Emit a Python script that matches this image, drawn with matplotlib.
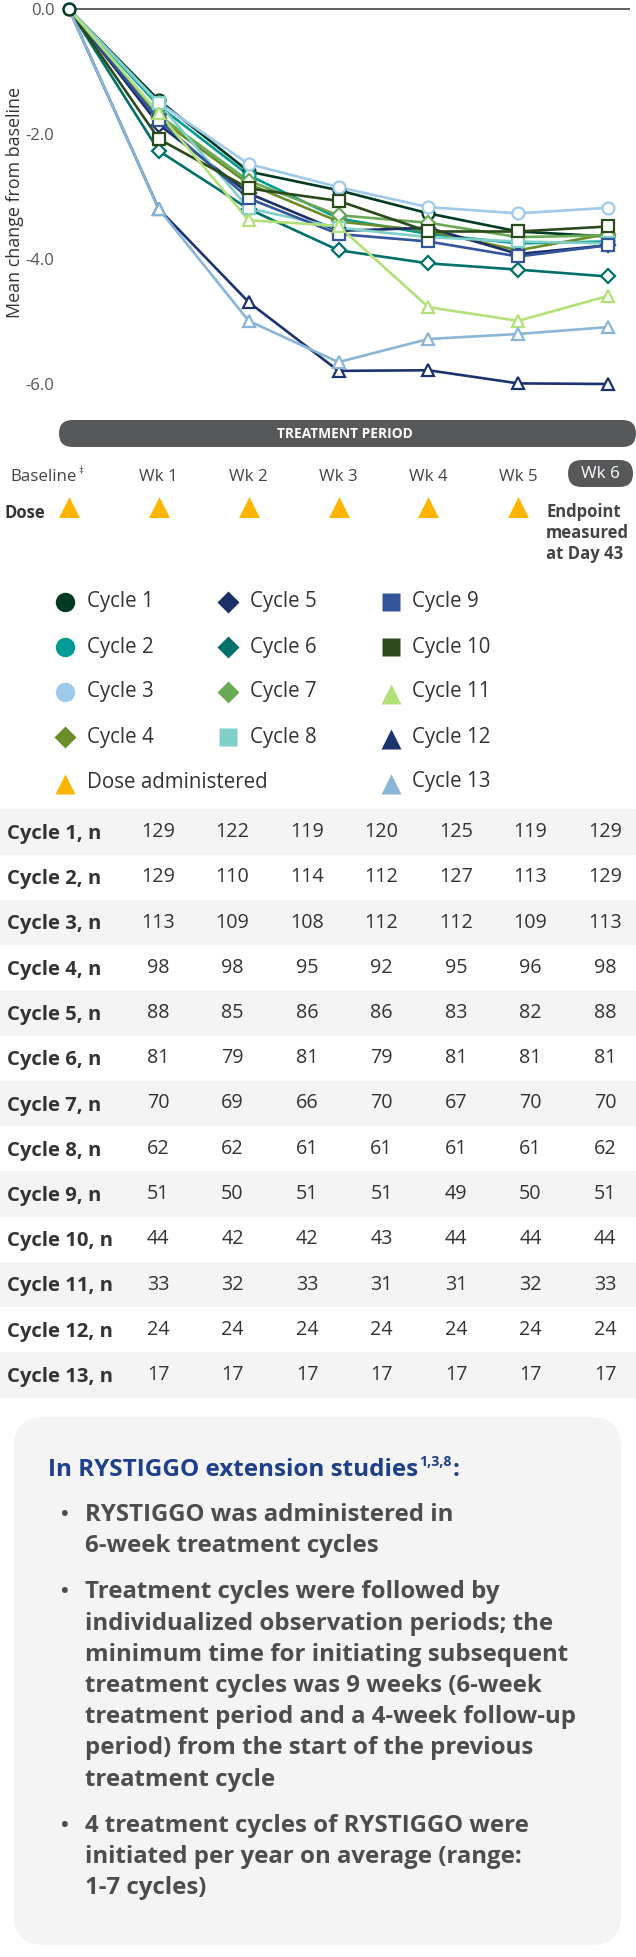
import matplotlib
matplotlib.use("Agg")
import matplotlib.pyplot as plt
from matplotlib.patches import FancyBboxPatch, Rectangle

plt.rcParams['font.family'] = ['Open Sans', 'DejaVu Sans']

W, H = 636, 1957

# ---- data ----
weeks = [0, 1, 2, 3, 4, 5, 6]
week_labels = ["Baseline", "Wk 1", "Wk 2", "Wk 3", "Wk 4", "Wk 5", "Wk 6"]
dose_weeks = [0, 1, 2, 3, 4, 5]

cycle_names = ["Cycle %d" % i for i in range(1, 14)]
cycle1 = [0, -1.46, -2.60, -2.90, -3.27, -3.56, -3.64]
cycle2 = [0, -1.55, -2.66, -3.35, -3.60, -3.75, -3.72]
cycle3 = [0, -1.50, -2.48, -2.85, -3.17, -3.27, -3.18]
cycle4 = [0, -1.75, -2.80, -3.40, -3.55, -3.86, -3.60]
cycle5 = [0, -1.85, -2.95, -3.55, -3.50, -3.92, -3.78]
cycle6 = [0, -2.27, -3.20, -3.86, -4.07, -4.17, -4.28]
cycle7 = [0, -1.70, -2.75, -3.30, -3.42, -3.65, -3.62]
cycle8 = [0, -1.51, -3.19, -3.50, -3.65, -3.72, -3.75]
cycle9 = [0, -1.78, -3.03, -3.60, -3.72, -3.96, -3.78]
cycle10 = [0, -2.08, -2.87, -3.07, -3.56, -3.56, -3.48]
cycle11 = [0, -1.67, -3.38, -3.47, -4.77, -4.99, -4.59]
cycle12 = [0, -3.20, -4.69, -5.79, -5.78, -5.99, -6.00]
cycle13 = [0, -3.20, -4.99, -5.65, -5.28, -5.20, -5.09]
cycle_values = [cycle1, cycle2, cycle3, cycle4, cycle5, cycle6, cycle7,
                cycle8, cycle9, cycle10, cycle11, cycle12, cycle13]

cycle_colors = ["#003a22", "#009b94", "#9fcaec", "#6b8e2b", "#1b2f66",
                "#00706a", "#6aa955", "#80cfc8", "#34559b", "#2a4a1c",
                "#b3e179", "#1c3370", "#8ab5d7"]
cycle_markers = ["o", "o", "o", "D", "D", "D", "D", "s", "s", "s", "^", "^", "^"]
dose_color = "#ffb400"

yticks = [0, -2, -4, -6]
ytick_labels = ["0.0", "-2.0", "-4.0", "-6.0"]

table_rows = ["Cycle %d, n" % i for i in range(1, 14)]
n_values = [
    [129, 122, 119, 120, 125, 119, 129],
    [129, 110, 114, 112, 127, 113, 129],
    [113, 109, 108, 112, 112, 109, 113],
    [98, 98, 95, 92, 95, 96, 98],
    [88, 85, 86, 86, 83, 82, 88],
    [81, 79, 81, 79, 81, 81, 81],
    [70, 69, 66, 70, 67, 70, 70],
    [62, 62, 61, 61, 61, 61, 62],
    [51, 50, 51, 51, 49, 50, 51],
    [44, 42, 42, 43, 44, 44, 44],
    [33, 32, 33, 31, 31, 32, 33],
    [24, 24, 24, 24, 24, 24, 24],
    [17, 17, 17, 17, 17, 17, 17],
]

box_title = "In RYSTIGGO extension studies"
box_bullets = [
    ["RYSTIGGO was administered in", "6-week treatment cycles"],
    ["Treatment cycles were followed by",
     "individualized observation periods; the",
     "minimum time for initiating subsequent",
     "treatment cycles was 9 weeks (6-week",
     "treatment period and a 4-week follow-up",
     "period) from the start of the previous",
     "treatment cycle"],
    ["4 treatment cycles of RYSTIGGO were",
     "initiated per year on average (range:",
     "1-7 cycles)"],
]

# ---- figure ----
fig = plt.figure(figsize=(W / 100, H / 100), dpi=100)

# page overlay in pixel coordinates (y down)
page = fig.add_axes([0, 0, 1, 1], zorder=-1)
page.set_xlim(0, W)
page.set_ylim(H, 0)
page.axis("off")
renderer = fig.canvas.get_renderer()


def fit(txt, target_px, weight="normal"):
    # font size whose rendered width matches the width measured on the reference
    t = page.text(0, 0, txt, fontsize=10, fontweight=weight)
    w = t.get_window_extent(renderer=renderer).width
    t.remove()
    return 10 * target_px / w


fs_title = fit(box_title, 371, "bold")
fs_bullet = (fit(box_bullets[1][1], 468, "bold") + fit(box_bullets[1][4], 493, "bold")) / 2
fs_bar = fit("TREATMENT PERIOD", 136, "bold")
fs_end = fit("measured", 83, "bold")
fs_table = fit("Cycle 13, n", 106, "bold")
fs_num = fit("129", 34, "normal")
fs_leg = fit("Dose administered", 181, "normal")
fs_ylab = fit("Mean change from baseline", 231, "normal")
fs_wk = fit("Baseline", 66, "normal")

# chart axes: x=0 at px 69, x=6 at px 608 ; y=0 at px 9, y=-6 at px 384
px_per_wk = (608 - 69) / 6
px_per_unit = (384 - 9) / 6
ax_l, ax_r, ax_t, ax_b = 60, 630, 0, 400
ax = fig.add_axes([ax_l / W, 1 - ax_b / H, (ax_r - ax_l) / W, (ax_b - ax_t) / H])
ax.set_xlim(-(69 - ax_l) / px_per_wk, 6 + (ax_r - 608) / px_per_wk)
ax.set_ylim(-(ax_b - 9) / px_per_unit, 9 / px_per_unit)
for s in ax.spines.values():
    s.set_visible(False)
ax.set_xticks([])
ax.set_yticks(yticks)
ax.set_yticklabels(ytick_labels, fontsize=12, color="#555555")
ax.tick_params(axis="y", length=0, pad=4)
ax.axhline(0, xmin=(69 - ax_l) / (ax_r - ax_l), xmax=1, color="#444444", lw=1.2, zorder=1)

for vals, col, mk in zip(cycle_values, cycle_colors, cycle_markers):
    ms = 7.2 if mk == "D" else 8.6
    ax.plot(weeks, vals, color=col, lw=1.9, zorder=2)
    ax.plot(weeks[1:], vals[1:], ls="none", marker=mk, ms=ms, mfc="white",
            mec=col, mew=1.6, zorder=3, clip_on=False)
ax.plot(weeks[:1], cycle1[:1], ls="none", marker="o", ms=8.6, mfc="white",
        mec=cycle_colors[0], mew=1.8, zorder=4, clip_on=False)

fig.text(15 / W, 1 - 203 / H, "Mean change from baseline", rotation=90,
         ha="center", va="center", fontsize=fs_ylab, color="#333333")


def wk_px(w):
    return ax.transData.transform((w, 0))[0]


bar_grey = "#56585a"
page.add_patch(FancyBboxPatch((59, 420), 577, 27, boxstyle="round,pad=0,rounding_size=13.5",
                              fc=bar_grey, ec="none"))
page.text(345, 434.5, "TREATMENT PERIOD", ha="center", va="center", fontsize=fs_bar,
          fontweight="bold", color="white")

# week labels
lab_y = 477
for w, lab in zip(weeks, week_labels):
    x = wk_px(w)
    if w == 0:
        page.text(x + 8, lab_y, lab, ha="right", va="center", fontsize=fs_wk, color="#444444")
        page.text(x + 9, lab_y - 6, "\u2021", ha="left", va="center", fontsize=7, color="#444444")
    elif w == 6:
        page.add_patch(FancyBboxPatch((x - 40, 460), 65, 27, boxstyle="round,pad=0,rounding_size=13.5",
                                      fc=bar_grey, ec="none"))
        page.text(x - 7.5, 474, lab, ha="center", va="center", fontsize=fs_wk, color="white")
    else:
        page.text(x, lab_y, lab, ha="center", va="center", fontsize=fs_wk, color="#444444")

page.text(4, 513, "Dose", ha="left", va="center", fontsize=fs_end, fontweight="bold", color="#333333")
page.plot([wk_px(w) for w in dose_weeks], [508] * len(dose_weeks), ls="none", marker="^",
          ms=12, color=dose_color, mec=dose_color, mew=2.2)
for i, line in enumerate(["Endpoint", "measured", "at Day 43"]):
    page.text(546, 512 + i * 21, line, ha="left", va="center", fontsize=fs_end,
              fontweight="bold", color="#444444")

# legend (manual 3-column layout)
leg_rows = [602, 647, 692, 737, 782]
leg_cols = [(65, 87), (228, 250), (391, 412)]
leg_items = []
for i in range(13):
    if i < 4:
        c, r = 0, i
    elif i < 8:
        c, r = 1, i - 4
    else:
        c, r = 2, i - 8
    leg_items.append((c, r, cycle_names[i], cycle_markers[i], cycle_colors[i]))
leg_items.append((0, 4, "Dose administered", "^", dose_color))
leg_ms = {"o": 14, "D": 11, "s": 12.5, "^": 14}
for c, r, name, mk, col in leg_items:
    mx, tx = leg_cols[c]
    my = leg_rows[r] + (1.5 if mk == "^" else 0)
    page.plot([mx], [my], ls="none", marker=mk, ms=leg_ms[mk], color=col, mec="none")
    page.text(tx, leg_rows[r], name, ha="left", va="center", fontsize=fs_leg, color="#333333")

# n table
row_h = 45.25
row0 = 832
col_x = [158, 232.5, 307, 381.5, 456, 530.5, 605]
for i, (lab, vals) in enumerate(zip(table_rows, n_values)):
    cy = row0 + i * row_h
    if i % 2 == 0:
        page.add_patch(Rectangle((0, cy - row_h / 2), W, row_h, fc="#f4f4f4", ec="none"))
    page.text(7, cy + 2, lab, ha="left", va="center", fontsize=fs_table, fontweight="bold", color="#333333")
    for x, v in zip(col_x, vals):
        page.text(x, cy, str(v), ha="center", va="center", fontsize=fs_num, color="#333333")

# info box
page.add_patch(FancyBboxPatch((14, 1417), 607, 528, boxstyle="round,pad=0,rounding_size=30",
                              fc="#f4f4f4", ec="none"))
navy = "#1e3f8c"
t = page.text(48, 1470, box_title, ha="left", va="center", fontsize=fs_title,
              fontweight="bold", color=navy)
bb = t.get_window_extent(renderer=renderer)
sup = page.text(bb.x1 + 1, 1462, "1,3,8", ha="left", va="center", fontsize=fs_title * 0.58,
                fontweight="bold", color=navy)
bb2 = sup.get_window_extent(renderer=renderer)
page.text(bb2.x1 + 1, 1470, ":", ha="left", va="center", fontsize=fs_title,
          fontweight="bold", color=navy)

line_h = 31.2
para_gap = 15
y = 1515
for para in box_bullets:
    page.text(65, y, "\u2022", ha="center", va="center", fontsize=fs_bullet * 0.85,
              fontweight="bold", color="#4d4d4d")
    for line in para:
        page.text(85, y, line, ha="left", va="center", fontsize=fs_bullet, fontweight="bold", color="#4d4d4d")
        y += line_h
    y += para_gap

fig.savefig("out.png", dpi=100)
